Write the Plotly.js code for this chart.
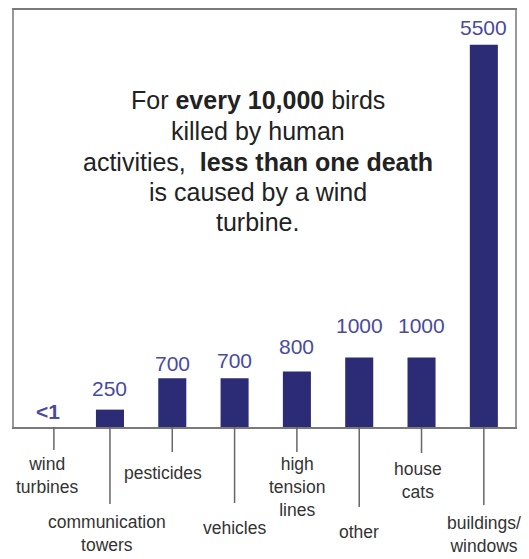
<!DOCTYPE html>
<html>
<head>
<meta charset="utf-8">
<script src="https://cdn.plot.ly/plotly-3.0.1.min.js"></script>
<style>html,body{margin:0;padding:0;background:#fff;}#chart{width:529px;height:559px;}</style>
</head>
<body>
<div id="chart"></div>
<script>
const categories = ["wind turbines","communication towers","pesticides","vehicles","high tension lines","other","house cats","buildings/windows"];
const tickLabels = ["wind<br>turbines","communication<br>towers","pesticides","vehicles","high<br>tension<br>lines","other","house<br>cats","buildings/<br>windows"];
const deaths = [0.5, 250, 700, 700, 800, 1000, 1000, 5500];
const valueLabels = ["<1","250","700","700","800","1000","1000","5500"];
const noteLines = [
  'For <b>every 10,000</b> birds',
  'killed by human',
  'activities,  <b>less than one death</b>',
  'is caused by a wind',
  'turbine.'
];

// layout-only offsets / styles (pixels)
const valueLabelLift = [15, 21, 15, 18, 25, 32, 32, 17];
const valueLabelBold = [true, false, false, false, false, false, false, false];
const tickLength = [23, 77, 25, 76, 25, 80, 26, 78];
const tickShift = [0.1, 0, 0, 0, 0, 0, 0, 0];
const labelDrop = [48, 106, 46, 101, 60, 105, 53, 107];
const labelShiftX = [0, -3, -9, 0, 0, 0, -4, 0];
const noteLineY = [100, 131, 162, 192, 222];

const esc = s => s.replace(/&/g,'&amp;').replace(/</g,'&lt;').replace(/>/g,'&gt;');
const FONT = '"Liberation Sans", Arial, Helvetica, sans-serif';
const PLOT_TOP = 10, PLOT_H = 417;

const trace = {
  type: 'bar',
  x: categories,
  y: deaths,
  width: 0.45,
  marker: {color: '#2b2b76', line: {width: 0}},
  hoverinfo: 'x+y'
};

const annotations = [];
categories.forEach((c, i) => {
  const t = esc(valueLabels[i]);
  annotations.push({
    xref: 'x', yref: 'y', x: c, y: deaths[i],
    text: valueLabelBold[i] ? '<b>' + t + '</b>' : t, showarrow: false,
    xanchor: 'center', yanchor: 'middle', yshift: valueLabelLift[i],
    font: {family: FONT, size: 21, color: '#4a4a9e'}
  });
  annotations.push({
    xref: 'x', yref: 'paper', x: c, y: 0,
    text: tickLabels[i], showarrow: false,
    xanchor: 'center', yanchor: 'middle', yshift: -labelDrop[i], xshift: labelShiftX[i],
    align: 'center',
    font: {family: FONT, size: 17.5, color: '#333'}
  });
});
noteLines.forEach((t, i) => {
  annotations.push({
    xref: 'paper', yref: 'paper', x: 0.487, y: 1 - (noteLineY[i] - PLOT_TOP) / PLOT_H,
    xanchor: 'center', yanchor: 'middle', align: 'center', showarrow: false,
    text: t,
    font: {family: FONT, size: 25, color: '#222'}
  });
});

const shapes = categories.map((c, i) => ({
  type: 'line', xref: 'x', yref: 'paper',
  ysizemode: 'pixel', yanchor: 0,
  x0: c, x1: c, x0shift: tickShift[i], x1shift: tickShift[i], y0: 0, y1: -tickLength[i],
  line: {color: '#666', width: 1.5}
}));

const layout = {
  width: 529, height: 559,
  margin: {l: 14, r: 14, t: PLOT_TOP, b: 559 - PLOT_TOP - PLOT_H},
  paper_bgcolor: '#fff', plot_bgcolor: '#fff',
  showlegend: false,
  font: {family: FONT},
  xaxis: {
    type: 'category', range: [-0.54, 7.5],
    showticklabels: false, ticks: '', showgrid: false, zeroline: false,
    showline: true, mirror: true, linecolor: '#7a7a7a', linewidth: 2,
    fixedrange: true
  },
  yaxis: {
    range: [0, 6000], showticklabels: false, ticks: '', showgrid: false, zeroline: false,
    showline: true, mirror: true, linecolor: '#999', linewidth: 2,
    fixedrange: true
  },
  annotations: annotations,
  shapes: shapes
};

Plotly.newPlot('chart', [trace], layout, {displayModeBar: false, staticPlot: true});
</script>
</body>
</html>
